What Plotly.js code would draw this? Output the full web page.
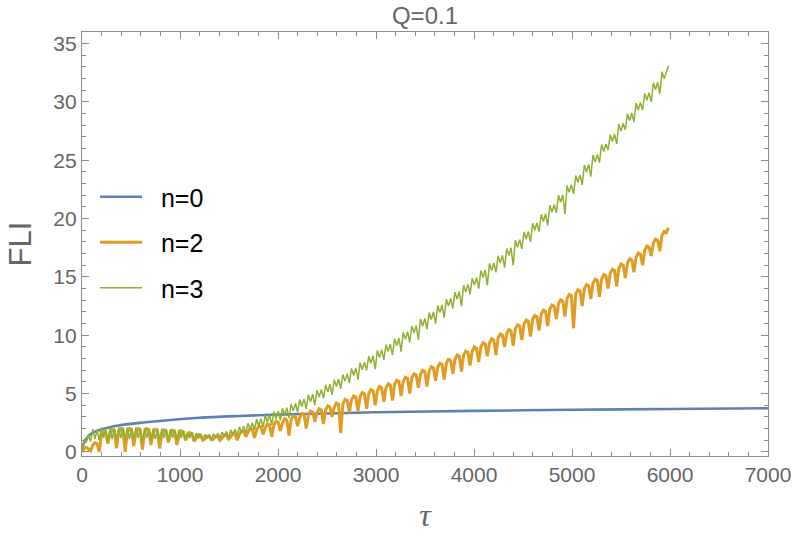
<!DOCTYPE html>
<html>
<head>
<meta charset="utf-8">
<script src="https://cdn.plot.ly/plotly-3.0.1.min.js"></script>
<style>html,body{margin:0;padding:0;background:#fff;}#chart{width:792px;height:536px;}</style>
</head>
<body>
<div id="chart"></div>
<script>
// ---- data ----
const seriesNames = ["n=0", "n=2", "n=3"];

// n=0 (smooth)
const tauN0 = [0, 5, 15, 30, 60, 100, 170, 250, 400, 600, 850, 1200, 1600, 2000, 2500, 3000, 4000, 5000, 6000, 7000];
const fliN0 = [0, 0.35, 0.65, 0.95, 1.3, 1.6, 1.86, 2.05, 2.3, 2.5, 2.7, 2.93, 3.08, 3.2, 3.3, 3.4, 3.52, 3.61, 3.68, 3.74];

// sampling step (tau) of the oscillating series n=2 and n=3
const tauStep = 22;

// n=2 (oscillating with periodic dips)
const fliN2 = [
 0.0,0.3,0.4,0.25, 0.1,0.6,0.8,0.7, 0.0,1.4,1.7,1.6, 0.7,1.6,1.9,1.8,
 0.3,1.7,2.0,1.9, 0.0,1.65,2.0,1.9, 0.5,1.7,2.0,1.9, 0.2,1.65,2.0,1.9,
 0.6,1.6,1.95,1.85, 0.3,1.55,1.9,1.8, 0.8,1.5,1.85,1.75, 0.6,1.45,1.8,1.7,
 1.0,1.35,1.65,1.55, 0.9,1.2,1.5,1.4, 1.0,1.1,1.35,1.3, 1.05,1.1,1.35,1.3,
 1.0,1.2,1.45,1.4, 1.1,1.3,1.6,1.55, 1.0,1.5,1.8,1.75, 1.3,1.7,2.0,1.95,
 1.2,1.9,2.2,2.15, 1.5,2.05,2.4,2.3, 1.3,2.3,2.65,2.55, 1.8,2.5,2.85,2.75,
 1.4,2.75,3.1,3.0, 2.2,2.95,3.3,3.2, 2.0,3.15,3.5,3.4, 2.6,3.35,3.7,3.6,
 2.4,3.6,3.95,3.85, 3.0,3.85,4.2,4.1, 1.6,4.1,4.5,4.4, 3.4,4.45,4.8,4.7,
 3.5,4.75,5.1,5.0, 3.7,5.0,5.35,5.25, 4.0,5.25,5.6,5.5, 4.3,5.5,5.85,5.75,
 4.4,5.8,6.15,6.05, 4.8,6.05,6.4,6.3, 5.0,6.35,6.7,6.6, 5.5,6.65,7.0,6.9,
 5.6,6.95,7.3,7.2, 6.1,7.25,7.6,7.5, 6.2,7.6,7.95,7.85, 6.7,7.95,8.3,8.2,
 6.9,8.3,8.65,8.55, 7.4,8.65,9.0,8.9, 7.7,9.0,9.35,9.25, 8.2,9.35,9.7,9.6,
 8.3,9.75,10.1,10.0, 9.0,10.15,10.5,10.4, 9.1,10.55,10.9,10.8, 9.6,10.95,11.3,11.2,
 9.9,11.35,11.7,11.6, 10.4,11.8,12.15,12.05, 10.8,12.25,12.6,12.5, 11.4,12.7,13.05,12.95,
 11.6,13.15,13.5,13.4, 10.6,13.55,13.9,13.8, 12.5,14.0,14.35,14.25, 13.1,14.45,14.8,14.7,
 13.3,14.85,15.2,15.1, 14.0,15.3,15.65,15.55, 14.2,15.75,16.1,16.0, 14.9,16.2,16.55,16.45,
 15.4,16.7,17.05,16.95, 16.0,17.3,17.65,17.55, 16.8,17.9,18.25,18.15, 17.2,18.55,18.9,18.8,
 19.2
];

// n=3 (noisy band)
const fliN3 = [
 0.0,1.1,0.8,1.5, 0.9,1.95,1.1,1.9, 1.0,2.1,1.2,2.05, 0.8,2.1,1.1,2.05,
 1.0,2.1,1.2,2.1, 0.9,2.1,1.1,2.05, 1.0,2.1,1.2,2.05, 0.8,2.05,1.2,2.0,
 1.0,2.0,1.1,2.0, 0.9,2.0,1.2,1.95, 1.0,1.95,1.2,1.9, 1.0,1.9,1.2,1.85,
 1.1,1.75,1.2,1.7, 1.0,1.6,1.15,1.55, 1.1,1.5,1.15,1.5, 1.1,1.55,1.2,1.6,
 1.2,1.7,1.3,1.75, 1.2,1.9,1.4,1.95, 1.4,2.15,1.6,2.2, 1.6,2.45,1.9,2.5,
 1.9,2.8,2.2,2.85, 2.1,3.15,2.55,3.2, 2.3,3.45,2.85,3.5, 2.7,3.75,3.15,3.8,
 2.9,4.1,3.5,4.15, 3.4,4.5,3.9,4.55, 3.7,4.9,4.3,4.95, 4.0,5.3,4.7,5.35,
 4.6,5.75,5.15,5.8, 4.9,6.2,5.6,6.25, 5.4,6.65,6.05,6.7, 5.9,7.15,6.55,7.2,
 6.2,7.65,7.05,7.7, 7.0,8.2,7.6,8.25, 7.1,8.7,8.1,8.75, 7.9,9.2,8.6,9.25,
 8.3,9.7,9.1,9.75, 8.6,10.25,9.65,10.3, 9.4,10.8,10.2,10.85, 9.6,11.4,10.8,11.45,
 10.5,11.95,11.35,12.0, 11.0,12.55,11.95,12.6, 11.5,13.1,12.5,13.15, 12.3,13.7,13.1,13.75,
 12.5,14.3,13.7,14.35, 13.5,14.9,14.3,14.95, 14.0,15.55,14.95,15.6, 14.3,16.15,15.55,16.2,
 15.4,16.8,16.2,16.85, 15.8,17.45,16.85,17.5, 16.0,18.15,17.55,18.2, 17.4,18.85,18.25,18.9,
 18.0,19.6,19.0,19.65, 18.9,20.35,19.75,20.4, 19.4,21.15,20.55,21.2, 20.5,22.0,21.4,22.05,
 20.4,22.85,22.25,22.9, 22.1,23.7,23.1,23.75, 22.9,24.6,24.0,24.65, 23.6,25.45,24.85,25.5,
 24.8,26.35,25.75,26.4, 25.9,27.2,26.6,27.25, 26.4,28.1,27.5,28.15, 27.6,29.0,28.4,29.05,
 28.3,29.9,29.3,29.95, 29.3,30.75,30.15,30.8, 30.0,31.65,31.05,31.7, 30.7,32.6,32.0,32.65,
 33.1
];

const xTicks = [0, 1000, 2000, 3000, 4000, 5000, 6000, 7000];
const yTicks = [0, 5, 10, 15, 20, 25, 30, 35];

// ---- build ----
const tauN2 = fliN2.map((_, i) => i * tauStep);
const tauN3 = fliN3.map((_, i) => i * tauStep);

const colors = ["#5E81B5", "#E19C24", "#8FB032"];
const pad = "\u00a0\u00a0";
const traces = [
  {x: tauN0, y: fliN0, name: pad + seriesNames[0], mode: "lines", line: {color: colors[0], width: 2.6, shape: "spline", smoothing: 0.8}, legendgroup: "a"},
  {x: tauN2, y: fliN2, name: pad + seriesNames[1], mode: "lines", line: {color: colors[1], width: 3}, legendgroup: "b"},
  {x: tauN3, y: fliN3, name: pad + seriesNames[2], mode: "lines", line: {color: colors[2], width: 1.5}, legendgroup: "c"}
];

const axisCommon = {
  showline: true, linecolor: "#8c8c8c", linewidth: 1.2, mirror: "ticks",
  ticks: "inside", ticklen: 7, tickwidth: 1, tickcolor: "#8c8c8c",
  showgrid: false, zeroline: false,
  tickfont: {family: "Liberation Sans, Arial, sans-serif", size: 21, color: "#666666"}
};

const layout = {
  width: 792, height: 536,
  margin: {l: 82, r: 24, t: 32, b: 80},
  paper_bgcolor: "#ffffff", plot_bgcolor: "#ffffff",
  title: {text: "Q=0.1", x: 0.5366, xanchor: "center", y: 0.970, yanchor: "middle",
          font: {family: "Liberation Sans, Arial, sans-serif", size: 24, color: "#666666"}},
  xaxis: Object.assign({}, axisCommon, {
    range: [0, 7000], tickvals: xTicks, ticktext: xTicks.map(String),
    minor: {dtick: 200, ticklen: 4, tickcolor: "#8c8c8c", ticks: "inside"},
    title: {text: "τ", standoff: 18, font: {family: "Liberation Serif, DejaVu Serif, serif", size: 32, color: "#666666", style: "italic"}}
  }),
  yaxis: Object.assign({}, axisCommon, {
    range: [-0.35, 36], tickvals: yTicks, ticktext: yTicks.map(String),
    minor: {dtick: 1, ticklen: 4, tickcolor: "#8c8c8c", ticks: "inside"},
    title: {text: "FLI", standoff: 12, font: {family: "Liberation Sans, Arial, sans-serif", size: 31, color: "#666666"}}
  }),
  legend: {x: 0.019, xanchor: "left", y: 0.665, yanchor: "top", bgcolor: "rgba(0,0,0,0)",
           font: {family: "Liberation Sans, Arial, sans-serif", size: 25, color: "#000000"},
           traceorder: "grouped", tracegroupgap: 10, itemwidth: 42},
  showlegend: true
};

Plotly.newPlot("chart", traces, layout, {displayModeBar: false, staticPlot: true});
</script>
</body>
</html>
